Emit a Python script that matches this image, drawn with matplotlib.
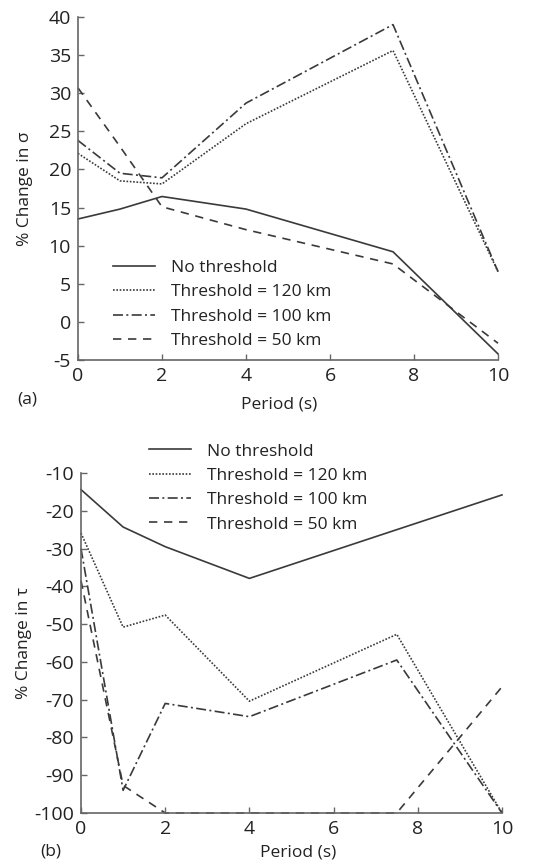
import matplotlib
matplotlib.use("Agg")
import matplotlib.pyplot as plt

plt.rcParams['font.family'] = ['Open Sans', 'DejaVu Sans']
plt.rcParams['axes.unicode_minus'] = False

periods = [0, 1, 2, 4, 7.5, 10]
labels = ["No threshold", "Threshold = 120 km", "Threshold = 100 km", "Threshold = 50 km"]

sigma_none = [13.5, 14.8, 16.45, 14.8, 9.2, -4.2]
sigma_120 = [22.1, 18.5, 18.1, 26.0, 35.6, 6.6]
sigma_100 = [23.8, 19.5, 18.9, 28.7, 39.0, 6.6]
sigma_50 = [30.7, 23.0, 15.1, 12.1, 7.6, -2.8]

tau_none = [-14.4, -24.3, -29.5, -37.9, -25.0, -15.8]
tau_120 = [-25.9, -50.8, -47.6, -70.4, -52.7, -100.0]
tau_100 = [-30.0, -94.0, -71.0, -74.5, -59.5, -100.0]
tau_50 = [-38.5, -92.7, -100.0, -100.0, -100.0, -66.6]

sigma_yticks = [-5, 0, 5, 10, 15, 20, 25, 30, 35, 40]
tau_yticks = [-100, -90, -80, -70, -60, -50, -40, -30, -20, -10]
xticks = [0, 2, 4, 6, 8, 10]

W, H = 541, 867
fig = plt.figure(figsize=(W / 100, H / 100), dpi=100)
ax1 = fig.add_axes([78 / W, 1 - 360 / H, 420 / W, 343 / H])
ax2 = fig.add_axes([81 / W, 1 - 813 / H, 421 / W, 340 / H])

lc = '#3a3a3a'
styles = [
    dict(linestyle='-'),
    dict(linestyle=(0, (1, 1))),
    dict(linestyle=(0, (6, 2, 1.2, 2))),
    dict(linestyle=(0, (5, 4))),
]

fs = 12.5
tfs = 14

def setup(ax, yticks, ylabel, xlab_coords, ylab_coords):
    for s in ['top', 'right']:
        ax.spines[s].set_visible(False)
    for s in ['left', 'bottom']:
        ax.spines[s].set_color('#666666')
        ax.spines[s].set_linewidth(1.2)
    ax.set_xlim(0, 10)
    ax.set_ylim(yticks[0], yticks[-1])
    ax.set_xticks(xticks)
    ax.set_yticks(yticks)
    ax.tick_params(direction='in', length=4, width=1, color='#666666',
                   labelsize=tfs, labelcolor='#222222', pad=5)
    ax.set_xlabel("Period (s)", fontsize=fs, color='#222222')
    ax.set_ylabel(ylabel, fontsize=fs, color='#222222')
    ax.xaxis.set_label_coords(*xlab_coords)
    ax.yaxis.set_label_coords(*ylab_coords)

for ax, series in [(ax1, [sigma_none, sigma_120, sigma_100, sigma_50]),
                   (ax2, [tau_none, tau_120, tau_100, tau_50])]:
    for vals, lab, st in zip(series, labels, styles):
        ax.plot(periods, vals, color=lc, linewidth=1.2, label=lab, clip_on=False, **st)

setup(ax1, sigma_yticks, "% Change in σ", (0.48, -0.105), (-0.108, 0.5))
setup(ax2, tau_yticks, "% Change in τ", (0.515, -0.092), (-0.116, 0.5))

leg_kw = dict(frameon=False, fontsize=fs, handlelength=2.4, handletextpad=0.95,
              labelspacing=0.47, borderpad=0, borderaxespad=0, loc='upper left')
l1 = ax1.legend(bbox_to_anchor=(0.083, 0.292), **leg_kw)
l2 = ax2.legend(bbox_to_anchor=(0.1615, 1.087), **leg_kw)
for l in (l1, l2):
    for t in l.get_texts():
        t.set_color('#222222')

fig.text(17 / W, 1 - 400 / H, "(a)", fontsize=fs, color='#222222', va='center', ha='left')
fig.text(40 / W, 1 - 852 / H, "(b)", fontsize=fs, color='#222222', va='center', ha='left')

fig.savefig("out.png", dpi=100)
